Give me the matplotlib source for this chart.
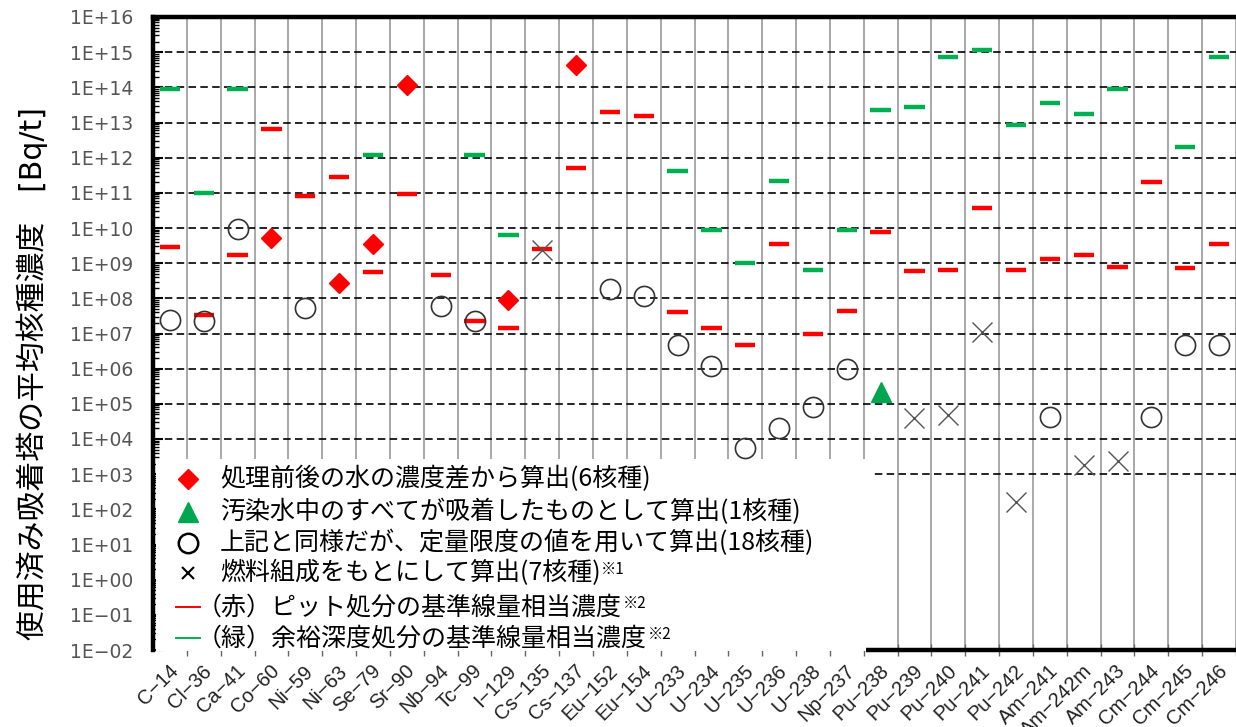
import numpy as np
import matplotlib
matplotlib.use("Agg")
import matplotlib.pyplot as plt
from matplotlib.patches import Rectangle

plt.rcParams['font.family'] = ['DejaVu Sans']

# ---------------- data ----------------
nuclides = ["C-14", "Cl-36", "Ca-41", "Co-60", "Ni-59", "Ni-63", "Se-79", "Sr-90",
            "Nb-94", "Tc-99", "I-129", "Cs-135", "Cs-137", "Eu-152", "Eu-154",
            "U-233", "U-234", "U-235", "U-236", "U-238", "Np-237", "Pu-238",
            "Pu-239", "Pu-240", "Pu-241", "Pu-242", "Am-241", "Am-242m", "Am-243",
            "Cm-244", "Cm-245", "Cm-246"]

# pit disposal reference concentration (red bars)
pit_limit = [2.9e9, 3.4e7, 1.7e9, 6.7e12, 8.1e10, 2.8e11, 5.5e8, 9.1e10, 4.5e8,
             2.2e7, 1.4e7, 2.6e9, 5.0e11, 1.95e13, 1.5e13, 4.0e7, 1.4e7, 4.7e6,
             3.6e9, 9.5e6, 4.5e7, 7.9e9, 5.9e8, 6.6e8, 3.7e10, 6.6e8, 1.3e9,
             1.7e9, 8.0e8, 2.1e11, 7.2e8, 3.6e9]

# intermediate-depth disposal reference concentration (green bars)
nan = np.nan
deep_limit = [9.0e13, 1.0e11, 9.0e13, nan, nan, nan, 1.17e12, nan, nan, 1.17e12,
              6.5e9, nan, nan, nan, nan, 4.1e11, 8.8e9, 1.0e9, 2.2e11, 6.6e8,
              8.8e9, 2.3e13, 2.7e13, 7.5e14, 1.15e15, 8.5e12, 3.7e13, 1.8e13,
              9.2e13, nan, 2.05e12, 7.5e14]

diamond_nuc = ["Co-60", "Ni-63", "Se-79", "Sr-90", "I-129", "Cs-137"]
diamond_val = [5.1e9, 2.7e8, 3.5e9, 1.17e14, 9.0e7, 4.3e14]

triangle_nuc = ["Pu-238"]
triangle_val = [2.2e5]

circle_nuc = ["C-14", "Cl-36", "Ca-41", "Ni-59", "Nb-94", "Tc-99", "Eu-152", "Eu-154",
              "U-233", "U-234", "U-235", "U-236", "U-238", "Np-237", "Am-241",
              "Cm-244", "Cm-245", "Cm-246"]
circle_val = [2.4e7, 2.3e7, 9.2e9, 5.2e7, 6.1e7, 2.3e7, 1.8e8, 1.2e8,
              4.7e6, 1.2e6, 5.5e3, 2.1e4, 8.3e4, 1.0e6, 4.3e4,
              4.3e4, 4.6e6, 4.6e6]

cross_nuc = ["Cs-135", "Pu-239", "Pu-240", "Pu-241", "Pu-242", "Am-242m", "Am-243"]
cross_val = [2.4e9, 3.9e4, 4.8e4, 1.1e7, 1.6e2, 1.8e3, 2.3e3]

ytick_vals = [10.0 ** k for k in range(-2, 17)]
ytick_labels = ["1E" + ("+" if k >= 0 else "\u2212") + "%02d" % abs(k) for k in range(-2, 17)]

legend_texts = ["処理前後の水の濃度差から算出(6核種)",
                "汚染水中のすべてが吸着したものとして算出(1核種)",
                "上記と同様だが、定量限度の値を用いて算出(18核種)",
                "燃料組成をもとにして算出(7核種)",
                "（赤）ピット処分の基準線量相当濃度",
                "（緑）余裕深度処分の基準線量相当濃度"]
ylabel_text = "使用済み吸着塔の平均核種濃度　[Bq/t]"

# ---------------- figure ----------------
W, H = 1236, 727
fig = plt.figure(figsize=(W / 100, H / 100), dpi=100)
AX_L, AX_R, AX_T, AX_B = 153, 1236, 17, 650
ax = fig.add_axes([AX_L / W, 1 - AX_B / H, (AX_R - AX_L) / W, (AX_B - AX_T) / H])

n = len(nuclides)
x = np.arange(n)
idx = {name: i for i, name in enumerate(nuclides)}
cat_px = 33.9
ax.set_xlim(-0.5, -0.5 + (AX_R - AX_L) / cat_px)
ax.set_yscale('log')
ax.set_ylim(1e-2, 1e16)

RED = '#ff0000'
GREEN = '#00b050'

def P(px, py):
    return ((px - AX_L) / (AX_R - AX_L), (AX_B - py) / (AX_B - AX_T))

# grid: vertical solid gray at category boundaries, dashed decades
ax.vlines(np.arange(n) + 0.5, 1e-2, 1e16, colors='#9a9a9a', lw=1.2, zorder=1)
for k in range(3, 16):
    ax.axhline(10.0 ** k, color='black', lw=1.2, ls=(0, (4.5, 2.6)), zorder=1.2)

# reference-concentration bars
hw = 0.3
ax.hlines(pit_limit, x - hw, x + hw, colors=RED, lw=3.2, zorder=3.5)
ax.hlines(deep_limit, x - hw, x + hw, colors=GREEN, lw=3.2, zorder=3.5)

# markers
ax.plot([idx[s] for s in circle_nuc], circle_val, ls='none', marker='o', ms=14.5,
        mfc='none', mec='#333333', mew=1.2, zorder=4)
ax.plot([idx[s] for s in cross_nuc], cross_val, ls='none', marker='x', ms=15,
        mec='#555555', mew=1.0, zorder=4)
ax.plot([idx[s] for s in diamond_nuc], diamond_val, ls='none', marker='D', ms=10,
        mfc=RED, mec=RED, zorder=4.2)
ax.plot([idx[s] for s in triangle_nuc], triangle_val, ls='none', marker='^', ms=15,
        mfc='#00a650', mec='#00a650', zorder=4.2)

# axes styling
for s in ['left', 'top']:
    ax.spines[s].set_linewidth(3.2)
    ax.spines[s].set_color('black')
ax.spines['right'].set_visible(False)
ax.spines['bottom'].set_visible(False)
# thick bottom axis line only visible to the right of the legend box
xa, _ = P(866, AX_B)
ax.plot([xa, 1.0], [0, 0], color='black', lw=3.2, transform=ax.transAxes,
        clip_on=False, zorder=3.2, solid_capstyle='butt')

ax.set_yticks(ytick_vals)
ax.set_yticklabels(ytick_labels)
ax.yaxis.set_minor_locator(matplotlib.ticker.LogLocator(base=10, subs=np.arange(2, 10), numticks=40))
ax.yaxis.set_minor_formatter(matplotlib.ticker.NullFormatter())
ax.tick_params(axis='y', which='major', direction='in', length=7, width=1.5,
               labelsize=13.5, labelcolor='#555555', pad=14)
ax.tick_params(axis='y', which='minor', direction='in', length=4, width=1.0)

ax.set_xticks(np.arange(n) + 0.5)
ax.set_xticklabels([])
ax.set_xticks(x + 0.15, minor=True)
ax.set_xticklabels([s.replace('-', '\u2212') for s in nuclides], minor=True,
                   rotation=45, ha='right', va='center', rotation_mode='anchor',
                   family=['Liberation Sans', 'DejaVu Sans'])
ax.tick_params(axis='x', which='major', direction='inout', length=8, width=1.0,
               color='#666666')
ax.tick_params(axis='x', which='minor', length=0, labelsize=14.5, pad=13,
               labelcolor='#222222')

# white legend box covering lower-left area
bx0, by0 = P(156, 651)
bx1, by1 = P(872, 459)
ax.add_patch(Rectangle((bx0, by0), bx1 - bx0, by1 - by0, transform=ax.transAxes,
                       facecolor='white', edgecolor='none', zorder=3, clip_on=False))

cjk = ['Noto Sans CJK JP', 'DejaVu Sans']
rows_y = [479, 512, 543, 573, 607, 638]
sym_x = 188
txt_x = 220
lfs = 18

mx, my = P(sym_x, rows_y[0])
ax.plot([mx], [my], marker='D', ms=10, color=RED, transform=ax.transAxes, clip_on=False, zorder=5)
mx, my = P(sym_x, rows_y[1])
ax.plot([mx], [my], marker='^', ms=15, color='#00a650', transform=ax.transAxes, clip_on=False, zorder=5)
mx, my = P(sym_x, rows_y[2])
ax.plot([mx], [my], marker='o', ms=14, mfc='none', mec='black', mew=1.8,
        transform=ax.transAxes, clip_on=False, zorder=5)
mx, my = P(sym_x, rows_y[3])
ax.plot([mx], [my], marker='x', ms=8, mec='black', mew=1.5,
        transform=ax.transAxes, clip_on=False, zorder=5)
for row, col in ((4, RED), (5, GREEN)):
    xa, ya = P(176, rows_y[row])
    xb, _ = P(200, rows_y[row])
    ax.plot([xa, xb], [ya, ya], color=col, lw=1.4, transform=ax.transAxes,
            clip_on=False, zorder=5)

texts = []
for i, t in enumerate(legend_texts):
    tx = txt_x if i < 4 else 197
    px, py = P(tx, rows_y[i])
    texts.append(ax.text(px, py, t, transform=ax.transAxes, fontsize=lfs, family=cjk,
                         ha='left', va='center', color='black', zorder=6))

for i, sup in ((3, '※1'), (4, '※2'), (5, '※2')):
    ax.annotate(sup, xy=(1, 1), xycoords=texts[i], xytext=(0.5, -1),
                textcoords='offset points', ha='left', va='top',
                fontsize=11, family=cjk, zorder=6)

fig.text(32 / W, 1 - 373 / H, ylabel_text, rotation=90, ha='center', va='center',
         fontsize=21.5, family=['DejaVu Sans', 'Noto Sans CJK JP'], color='black')

fig.savefig('out.png', dpi=100)
